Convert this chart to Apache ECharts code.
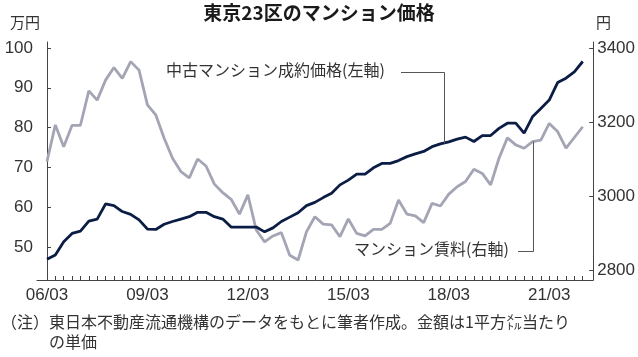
<!DOCTYPE html>
<html><head><meta charset="utf-8">
<script src="https://cdn.jsdelivr.net/npm/echarts@6/dist/echarts.min.js"></script>
<style>html,body{margin:0;padding:0;background:#fff;}#c{width:638px;height:357px;}</style>
</head><body><div id="c"></div>
<script>
// Quarterly, 2006/03 .. 2022/03
const categories = [
 '06/03','06/06','06/09','06/12','07/03','07/06','07/09','07/12','08/03','08/06','08/09','08/12',
 '09/03','09/06','09/09','09/12','10/03','10/06','10/09','10/12','11/03','11/06','11/09','11/12',
 '12/03','12/06','12/09','12/12','13/03','13/06','13/09','13/12','14/03','14/06','14/09','14/12',
 '15/03','15/06','15/09','15/12','16/03','16/06','16/09','16/12','17/03','17/06','17/09','17/12',
 '18/03','18/06','18/09','18/12','19/03','19/06','19/09','19/12','20/03','20/06','20/09','20/12',
 '21/03','21/06','21/09','21/12','22/03'];
// 中古マンション成約価格 (万円/㎡, left axis)
const priceValues = [
 46.9,48.0,51.3,53.4,54.0,56.5,57.0,60.8,60.4,58.9,58.2,56.8,
 54.5,54.4,55.7,56.4,57.0,57.6,58.7,58.7,57.6,57.0,55.0,55.0,
 55.0,55.0,53.8,54.8,56.4,57.5,58.6,60.4,61.2,62.4,63.5,65.6,
 66.8,68.3,68.3,69.9,71.0,71.0,71.7,72.7,73.4,74.0,75.2,75.9,
 76.4,77.1,77.6,76.5,78.0,78.0,79.8,81.1,81.1,78.6,82.7,84.8,
 86.9,91.3,92.4,94.0,96.6];
// マンション賃料 (円/㎡, right axis)
const rentValues = [
 3093,3192,3133,3191,3191,3284,3259,3313,3347,3318,3363,3340,
 3246,3219,3156,3102,3066,3049,3100,3081,3032,3009,2991,2951,
 3003,2908,2876,2892,2901,2840,2827,2903,2944,2924,2922,2890,
 2938,2899,2892,2910,2910,2926,2989,2951,2946,2928,2980,2973,
 3005,3025,3039,3072,3061,3030,3102,3157,3138,3129,3147,3151,
 3196,3174,3129,3158,3187];
const xTickLabels = ['06/03','09/03','12/03','15/03','18/03','21/03'];
const leftTicks = [50,60,70,80,90,100];
const rightTicks = [2800,3000,3200,3400];

const NAVY = '#0b1c45', GRAY = '#a3a5b5', AX = '#444';
const FONT = "'Liberation Sans Narrow','Liberation Sans',sans-serif";
const JP = "'Noto Sans CJK JP','Noto Sans',sans-serif";

const xLabelIdx = xTickLabels.map(l => categories.indexOf(l));
const chart = echarts.init(document.getElementById('c'), null, {renderer:'canvas'});
const option = {
  animation:false,
  backgroundColor:'#fff',
  grid:{left:37,right:44,top:42,bottom:77,containLabel:false},
  xAxis:{
    type:'value', min:-1.19, max:65.25,
    axisLine:{show:true,lineStyle:{color:AX,width:1}},
    splitLine:{show:false},
    axisTick:{show:true,inside:true,length:4,lineStyle:{color:AX},customValues:categories.map((c,i)=>i)},
    axisLabel:{customValues:xLabelIdx,formatter:v=>categories[Math.round(v)],
      fontFamily:FONT,fontSize:17,color:'#333',margin:7}
  },
  yAxis:[{
    type:'value', min:41.7, max:101.5, position:'left',
    axisLine:{show:true,lineStyle:{color:AX}},
    splitLine:{show:false},
    axisTick:{show:true,inside:true,length:4,lineStyle:{color:AX},customValues:leftTicks},
    axisLabel:{customValues:leftTicks,formatter:v=>String(v),fontFamily:FONT,fontSize:17,color:'#333',margin:4}
  },{
    type:'value', min:2773, max:3416, position:'right',
    axisLine:{show:true,lineStyle:{color:AX}},
    splitLine:{show:false},
    axisTick:{show:true,inside:true,length:4,lineStyle:{color:AX},customValues:rightTicks},
    axisLabel:{customValues:rightTicks,formatter:v=>String(v),fontFamily:FONT,fontSize:17,color:'#333',margin:4}
  }],
  series:[{
    type:'line', yAxisIndex:1, data:rentValues.map((v,i)=>[i,v]),
    symbol:'none', lineStyle:{color:GRAY,width:2.8}, z:2
  },{
    type:'line', yAxisIndex:0, data:priceValues.map((v,i)=>[i,v]),
    symbol:'none', lineStyle:{color:NAVY,width:2.8}, z:3
  }]
};
chart.setOption(option);

// annotations
const a1 = chart.convertToPixel({xAxisIndex:0,yAxisIndex:0},[47.4,76.0]);
const a2 = chart.convertToPixel({xAxisIndex:0,yAxisIndex:1},[58.1,3147]);
chart.setOption({graphic:[
  {type:'text',left:'center',top:3,style:{text:'東京23区のマンション価格',font:"bold 19px "+JP,fill:'#1a1a1a'}},
  {type:'text',left:10,top:15,style:{text:'万円',font:"15px "+JP,fill:'#333'}},
  {type:'text',left:596,top:15,style:{text:'円',font:"15px "+JP,fill:'#333'}},
  {type:'text',left:166,top:62,style:{text:'中古マンション成約価格(左軸)',font:"16px "+JP,fill:'#333'}},
  {type:'polyline',shape:{points:[[401,72.5],[Math.round(a1[0])+0.5,72.5],[Math.round(a1[0])+0.5,a1[1]]]},style:{stroke:'#555',lineWidth:1,fill:null},z:10},
  {type:'text',left:354,top:241,style:{text:'マンション賃料(右軸)',font:"16px "+JP,fill:'#333'}},
  {type:'polyline',shape:{points:[[518,251.5],[Math.round(a2[0])+0.5,251.5],[Math.round(a2[0])+0.5,a2[1]]]},style:{stroke:'#555',lineWidth:1,fill:null},z:10},
  {type:'text',left:1,top:312,style:{text:'（注）東日本不動産流通機構のデータをもとに筆者作成。金額は1平方㍍当たり\n　　　の単価',font:"16px "+JP,fill:'#333',lineHeight:20}}
]});
</script></body></html>
